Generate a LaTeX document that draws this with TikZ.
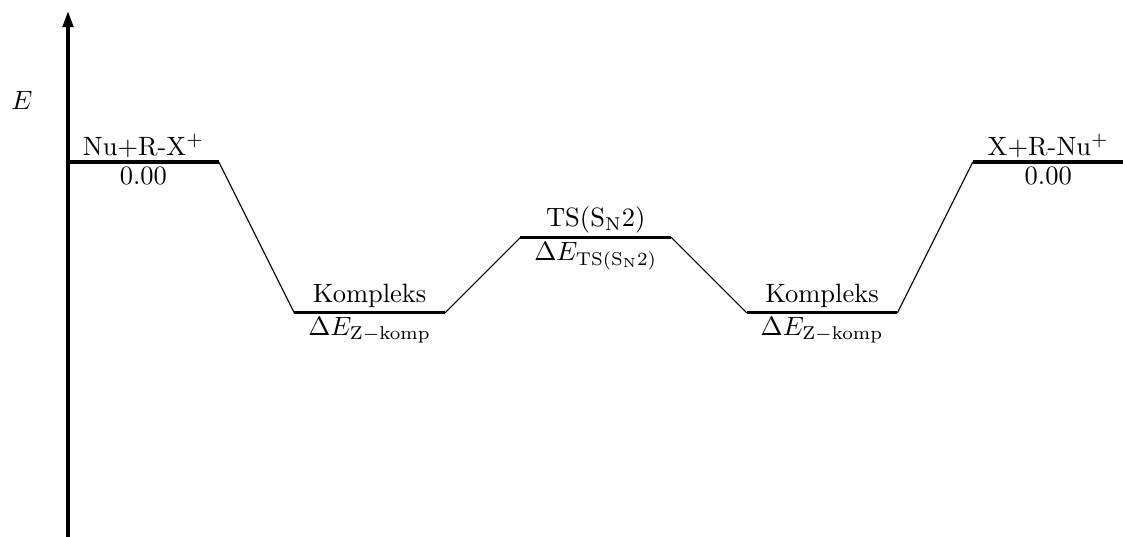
\documentclass[tikz,border=0pt]{standalone}
\usetikzlibrary{arrows.meta}
\begin{document}
\begin{tikzpicture}[
  level/.style={line width=1.2pt},
  link/.style={line width=0.4pt},
  lbl/.style={inner sep=1.2pt},
  axis/.style={line width=1.2pt,-{Triangle[length=6pt,width=4pt]}}
]
\useasboundingbox (-0.902,-4.973) rectangle (13.992,2.149);
% axis
\coordinate (ax0) at (0,-4.98);
\coordinate (ax1) at (0,2.0);
\draw[axis] (ax0) -- (ax1);
\node (E) at (-0.61,0.82) {$E$};
% level end points
\coordinate (l1a) at (0,0);   \coordinate (l1b) at (2,0);
\coordinate (l2a) at (3,-2);  \coordinate (l2b) at (5,-2);
\coordinate (l3a) at (6,-1);  \coordinate (l3b) at (8,-1);
\coordinate (l4a) at (9,-2);  \coordinate (l4b) at (11,-2);
\coordinate (l5a) at (12,0);  \coordinate (l5b) at (14,0);
% levels
\draw[level] (l1a) -- (l1b)
  node[midway,above,lbl] (t1) {Nu+R-X$^+$}
  node[midway,below,lbl] (b1) {0.00};
\draw[level] (l2a) -- (l2b)
  node[midway,above,lbl] (t2) {Kompleks}
  node[midway,below,lbl] (b2) {$\Delta E_{\mathrm{Z-komp}}$};
\draw[level] (l3a) -- (l3b)
  node[midway,above,lbl] (t3) {TS(S$_\mathrm{N}$2)}
  node[midway,below,lbl] (b3) {$\Delta E_{\mathrm{TS(S_N2)}}$};
\draw[level] (l4a) -- (l4b)
  node[midway,above,lbl] (t4) {Kompleks}
  node[midway,below,lbl] (b4) {$\Delta E_{\mathrm{Z-komp}}$};
\draw[level] (l5a) -- (l5b)
  node[midway,above,lbl] (t5) {X+R-Nu$^+$}
  node[midway,below,lbl] (b5) {0.00};
% connectors
\draw[link] (l1b) -- (l2a);
\draw[link] (l2b) -- (l3a);
\draw[link] (l3b) -- (l4a);
\draw[link] (l4b) -- (l5a);
\end{tikzpicture}
\end{document}
